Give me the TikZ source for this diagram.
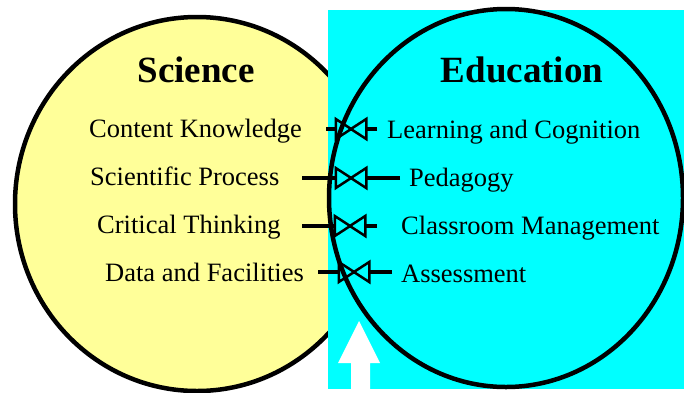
\documentclass[tikz,border=0pt]{standalone}
\usepackage{fontspec}
\setmainfont{Liberation Serif}
\usetikzlibrary{arrows.meta}
\definecolor{paleyellow}{HTML}{FFFF99}
\definecolor{aqua}{HTML}{00FFFF}

\begin{document}
\begin{tikzpicture}[x=1pt,y=-1pt,
  title/.style={font=\fontsize{37}{40}\selectfont\bfseries, anchor=base, inner sep=0pt},
  topic/.style={font=\fontsize{26.5}{30}\selectfont, inner sep=0pt},
  link/.style={line width=4.5pt, shorten >=-2.5pt, -{Triangle[open,length=19pt,width=24pt,line width=2.5pt]}}]
\useasboundingbox (0,0) rectangle (684,392);
\fill[paleyellow, draw=black, line width=4.5pt] (197,204) ellipse [x radius=182pt, y radius=187pt];
\fill[aqua] (328,10) rectangle (684,389);
\draw[line width=4.5pt] (506,198) ellipse [x radius=177pt, y radius=189pt];
\fill[white] (351,392) -- (351,363) -- (338,363) -- (359,321) -- (380,363) -- (370,363) -- (370,392) -- cycle;

\node[title] (sci) at (196,82) {Science};
\node[title] (edu) at (522,82) {Education};

\node[topic, anchor=base west] (ck) at (89,137) {Content Knowledge};
\node[topic, anchor=base west] (sp) at (90,185) {Scientific Process};
\node[topic, anchor=base west] (ct) at (97,233) {Critical Thinking};
\node[topic, anchor=base west] (df) at (105,281) {Data and Facilities};
\node[topic, anchor=base west] (lc) at (387,138) {Learning and Cognition};
\node[topic, anchor=base west] (pe) at (409,186) {Pedagogy};
\node[topic, anchor=base west] (cm) at (401,234) {Classroom Management};
\node[topic, anchor=base west] (as) at (401,282) {Assessment};

\coordinate (ck-in) at (326,129);
\coordinate (lc-in) at (377,129);
\coordinate (x1) at (351,129);
\draw[link] (ck-in) -- (x1);
\draw[link] (lc-in) -- (x1);

\coordinate (sp-in) at (302,178);
\coordinate (pe-in) at (400,178);
\coordinate (x2) at (351,178);
\draw[link] (sp-in) -- (x2);
\draw[link] (pe-in) -- (x2);

\coordinate (ct-in) at (302,226);
\coordinate (cm-in) at (377,226);
\coordinate (x3) at (350,226);
\draw[link] (ct-in) -- (x3);
\draw[link] (cm-in) -- (x3);

\coordinate (df-in) at (318,272);
\coordinate (as-in) at (392,272);
\coordinate (x4) at (354,272);
\draw[link] (df-in) -- (x4);
\draw[link] (as-in) -- (x4);
\end{tikzpicture}
\end{document}
